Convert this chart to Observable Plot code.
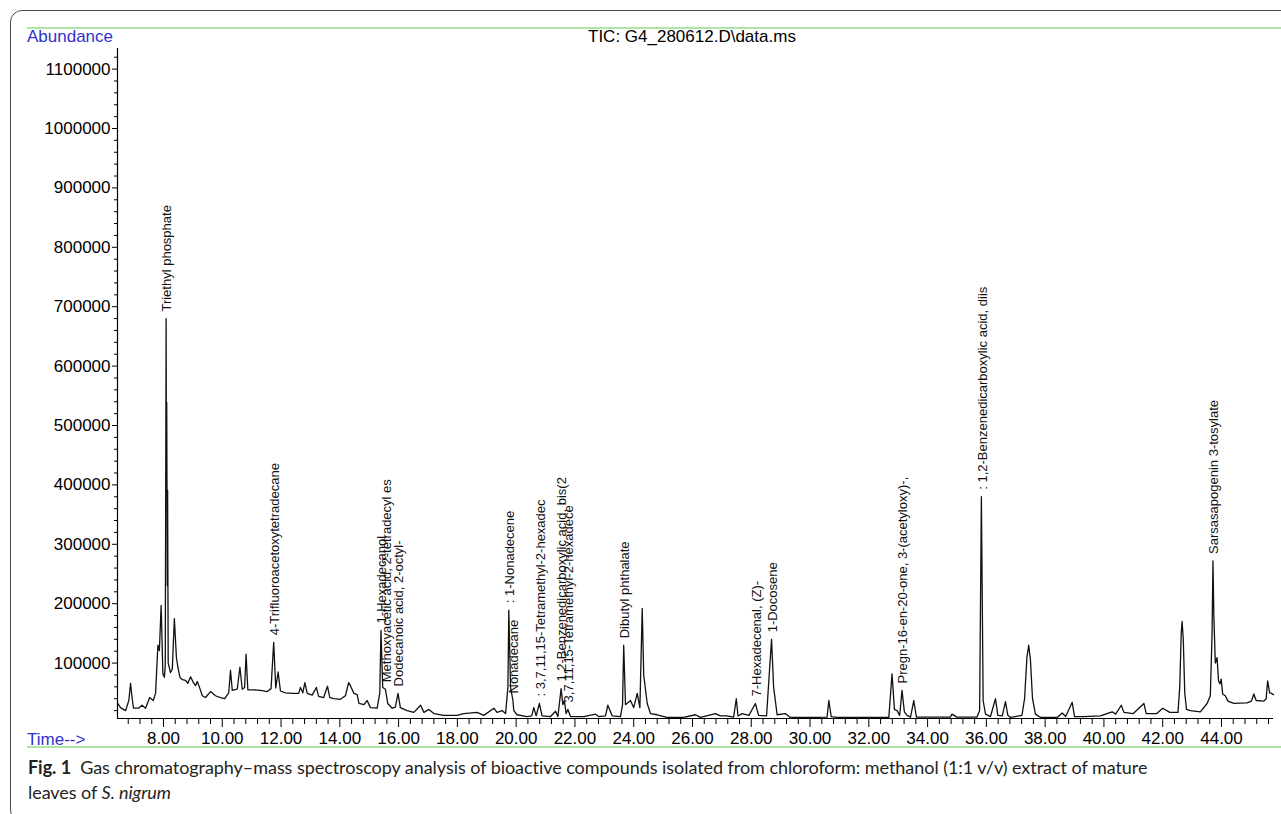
<!DOCTYPE html>
<html><head><meta charset="utf-8">
<script src="https://cdn.jsdelivr.net/npm/d3@7"></script>
<script src="https://cdn.jsdelivr.net/npm/@observablehq/plot@0.6"></script>
<style>
html,body{margin:0;padding:0;background:#fff;}
#wrap{position:relative;width:1281px;height:814px;overflow:hidden;font-family:"Liberation Sans",Arial,sans-serif;}
#border{position:absolute;left:10px;top:10px;width:1400px;height:812px;border:1.4px solid #4a4a4a;border-radius:12px;box-sizing:border-box;}
.green{position:absolute;left:27px;width:1260px;height:2px;background:#aee6a6;}
#chart{position:absolute;left:0;top:0;}
.blue{position:absolute;color:#3131cc;font-size:17px;line-height:20px;white-space:nowrap;}
#title{position:absolute;left:588px;top:27px;font-size:17px;line-height:20px;color:#000;white-space:nowrap;}
#caption{position:absolute;left:28px;top:755px;font-family:Lato,"Open Sans",sans-serif;font-size:18px;line-height:25px;color:#231f20;white-space:nowrap;letter-spacing:-0.05px;}
</style></head>
<body>
<div id="wrap">
  <div id="border"></div>
  <div class="green" style="top:27px"></div>
  <div class="green" style="top:746px"></div>
  <div class="blue" style="left:27px;top:27px">Abundance</div>
  <div id="title">TIC: G4_280612.D\data.ms</div>
  <div class="blue" style="left:27px;top:730px">Time--&gt;</div>
  <div id="chart"></div>
  <div id="caption"><b>Fig. 1</b>&nbsp; Gas chromatography–mass spectroscopy analysis of bioactive compounds isolated from chloroform: methanol (1:1 v/v) extract of mature<br>leaves of <i>S. nigrum</i></div>
</div>
<script>
// Total ion chromatogram: [retention time (min), abundance]
const ticPoints = [
[6.44,32000],[6.54,25000],[6.71,20000],[6.82,37000],[6.88,66000],[6.93,42000],[6.98,24000],[7.15,24000],
[7.27,29000],[7.39,24000],[7.53,42000],[7.65,37000],[7.73,49000],[7.81,130000],[7.86,121000],[7.92,197000],
[7.98,82000],[8.03,76000],[8.06,95000],[8.09,680000],[8.10,400000],[8.11,539000],[8.13,230000],[8.14,391000],
[8.16,100000],[8.24,84000],[8.30,90000],[8.37,175000],[8.44,109000],[8.49,93000],[8.56,76000],[8.64,72000],
[8.75,71000],[8.83,66000],[8.92,77000],[9.01,68000],[9.09,62000],[9.15,69000],[9.24,57000],[9.32,45000],
[9.43,42000],[9.60,52000],[9.77,45000],[9.94,42000],[10.08,40000],[10.22,50000],[10.28,88000],[10.34,54000],
[10.51,56000],[10.60,93000],[10.68,56000],[10.76,59000],[10.81,115000],[10.87,55000],[11.07,55000],[11.30,54000],
[11.53,52000],[11.66,57000],[11.75,135000],[11.82,58000],[11.90,85000],[11.98,53000],[12.15,50000],[12.38,49000],
[12.60,49000],[12.66,59000],[12.74,50000],[12.81,67000],[12.89,49000],[13.06,46000],[13.20,59000],[13.28,44000],
[13.45,42000],[13.58,61000],[13.66,42000],[13.80,40000],[14.02,39000],[14.19,45000],[14.30,67000],[14.36,62000],
[14.48,49000],[14.59,47000],[14.65,32000],[14.82,30000],[14.93,37000],[15.04,25000],[15.27,24000],[15.36,50000],
[15.40,155000],[15.46,59000],[15.55,56000],[15.63,32000],[15.78,24000],[15.89,26000],[15.98,49000],[16.06,25000],
[16.29,20000],[16.52,17000],[16.75,29000],[16.86,17000],[17.03,22000],[17.20,15000],[17.54,12000],[17.99,12000],
[18.22,15000],[18.67,17000],[18.90,12000],[19.24,24000],[19.35,17000],[19.52,20000],[19.64,15000],[19.72,60000],
[19.75,189000],[19.81,59000],[19.89,37000],[19.92,20000],[20.03,13000],[20.37,10000],[20.53,11000],[20.60,25000],
[20.68,11000],[20.79,32000],[20.88,11000],[21.17,10000],[21.34,19000],[21.42,10000],[21.53,57000],[21.59,30000],
[21.64,37000],[21.70,15000],[21.76,22000],[21.85,10000],[22.30,10000],[22.70,14000],[22.81,10000],[23.04,11000],
[23.12,29000],[23.27,11000],[23.55,10000],[23.62,30000],[23.66,130000],[23.72,30000],[23.89,37000],[24.00,25000],
[24.12,49000],[24.21,25000],[24.29,192000],[24.34,80000],[24.46,32000],[24.57,15000],[24.80,13000],[25.13,8500],
[25.70,8500],[26.10,13000],[26.27,8500],[26.78,15000],[26.95,11000],[27.17,11000],[27.40,9000],[27.49,40000],
[27.55,11000],[27.69,15000],[27.92,12000],[28.14,32000],[28.25,12000],[28.52,11000],[28.69,140000],[28.76,60000],
[28.88,13000],[29.16,15000],[29.33,8500],[30.24,8500],[30.58,9000],[30.64,37000],[30.72,10000],[30.92,8500],
[31.94,8500],[32.68,8500],[32.79,82000],[32.87,22000],[32.96,20000],[33.05,12000],[33.13,54000],[33.21,18000],
[33.30,12000],[33.42,9000],[33.53,37000],[33.62,9000],[34.77,9000],[34.83,14000],[34.99,9000],[35.68,9000],
[35.77,20000],[35.83,380000],[35.89,37000],[35.97,14000],[36.14,10000],[36.31,40000],[36.39,12000],[36.54,11000],
[36.65,35000],[36.73,12000],[36.82,8500],[37.21,12000],[37.30,40000],[37.38,110000],[37.44,130000],[37.50,105000],
[37.57,40000],[37.67,14000],[37.85,8500],[38.41,8500],[38.58,16000],[38.70,10000],[38.92,34000],[39.00,10000],
[39.31,10000],[39.88,11000],[40.28,18000],[40.40,14000],[40.59,29000],[40.68,17000],[41.00,15000],[41.36,32000],
[41.44,15000],[41.80,15000],[42.00,24000],[42.24,17000],[42.52,17000],[42.58,60000],[42.63,150000],[42.66,170000],
[42.70,140000],[42.75,50000],[42.81,22000],[42.94,20000],[43.28,18000],[43.51,32000],[43.62,45000],[43.68,150000],
[43.71,272000],[43.74,180000],[43.79,100000],[43.85,109000],[43.90,70000],[43.95,65000],[43.99,73000],[44.04,48000],
[44.13,45000],[44.22,36000],[44.42,32000],[44.87,33000],[45.02,36000],[45.10,48000],[45.18,37000],[45.44,36000],
[45.52,40000],[45.57,70000],[45.64,50000],[45.70,49000],[45.77,47000]
];

// Peak annotations
const peakNames = [
  "Triethyl phosphate",
  "4-Trifluoroacetoxytetradecane",
  "1-Hexadecanol",
  "Methoxyacetic acid, 2-tetradecyl es",
  "Dodecanoic acid, 2-octyl-",
  ": 1-Nonadecene",
  "Nonadecane",
  ": 3,7,11,15-Tetramethyl-2-hexadec",
  "1,2-Benzenedicarboxylic acid, bis(2",
  "3,7,11,15-Tetramethyl-2-hexadece",
  "Dibutyl phthalate",
  "7-Hexadecenal, (Z)-",
  "1-Docosene",
  "Pregn-16-en-20-one, 3-(acetyloxy)-,",
  ": 1,2-Benzenedicarboxylic acid, diis",
  "Sarsasapogenin 3-tosylate"
];
const peakTimes = [8.09, 11.75, 15.40, 15.55, 15.98, 19.75, 19.89, 20.79, 21.53, 21.76, 23.66, 28.14, 28.69, 33.13, 35.83, 43.71];
const peakHeights = [680000, 135000, 155000, 56000, 49000, 189000, 37000, 32000, 57000, 22000, 130000, 32000, 140000, 54000, 380000, 272000];

// Axis ticks
const xMajorTicks = [8,10,12,14,16,18,20,22,24,26,28,30,32,34,36,38,40,42,44];
const xMinorTicks = [6.8,7.2,7.6,8.4,8.8,9.2,9.6,10.4,10.8,11.2,11.6,12.4,12.8,13.2,13.6,14.4,14.8,15.2,15.6,16.4,16.8,17.2,17.6,18.4,18.8,19.2,19.6,20.4,20.8,21.2,21.6,22.4,22.8,23.2,23.6,24.4,24.8,25.2,25.6,26.4,26.8,27.2,27.6,28.4,28.8,29.2,29.6,30.4,30.8,31.2,31.6,32.4,32.8,33.2,33.6,34.4,34.8,35.2,35.6,36.4,36.8,37.2,37.6,38.4,38.8,39.2,39.6,40.4,40.8,41.2,41.6,42.4,42.8,43.2,43.6,44.4,44.8,45.2,45.6];
const yMajorTicks = [100000,200000,300000,400000,500000,600000,700000,800000,900000,1000000,1100000];
const yMinorTicks = [20000,40000,60000,80000,120000,140000,160000,180000,220000,240000,260000,280000,320000,340000,360000,380000,420000,440000,460000,480000,520000,540000,560000,580000,620000,640000,660000,680000,720000,740000,760000,780000,820000,840000,860000,880000,920000,940000,960000,980000,1020000,1040000,1060000,1080000,1120000];

const xDomain = [6.435, 45.77];
const yDomain = [6700, 1134700];

const trace = ticPoints.map(([t, v]) => ({t, v}));
const peaks = peakNames.map((name, i) => ({name, t: peakTimes[i], v: peakHeights[i]}));
const font = "'Liberation Sans', Arial, sans-serif";

const chart = Plot.plot({
  width: 1281,
  height: 750,
  marginLeft: 117,
  marginRight: 8,
  marginTop: 48,
  marginBottom: 32,
  x: {domain: xDomain, axis: null},
  y: {domain: yDomain, axis: null},
  style: {background: "transparent", fontFamily: font, color: "#000", overflow: "visible"},
  marks: [
    Plot.axisY({ticks: yMinorTicks, tickSize: 3, tickFormat: () => "", anchor: "left", label: null}),
    Plot.axisY({ticks: yMajorTicks, tickSize: 5, tickPadding: 2, fontSize: 17, tickFormat: d => String(d), anchor: "left", label: null}),
    Plot.axisX({ticks: xMinorTicks, tickSize: 6, tickFormat: () => "", anchor: "bottom", label: null}),
    Plot.axisX({ticks: xMajorTicks, tickSize: 9, tickPadding: 4, fontSize: 17, tickFormat: d => d.toFixed(2), anchor: "bottom", label: null}),
    Plot.ruleX([xDomain[0]], {y1: yDomain[0], y2: yDomain[1], stroke: "#000", strokeWidth: 1.2}),
    Plot.ruleY([yDomain[0]], {stroke: "#000", strokeWidth: 1.2}),
    Plot.line(trace, {x: "t", y: "v", stroke: "#111", strokeWidth: 1.3}),
    Plot.text(peaks, {x: "t", y: "v", text: "name", rotate: -90, textAnchor: "start", dy: -7, dx: 1, fontSize: 13, fill: "#111"})
  ]
});
document.getElementById("chart").appendChild(chart);
</script>
</body></html>
